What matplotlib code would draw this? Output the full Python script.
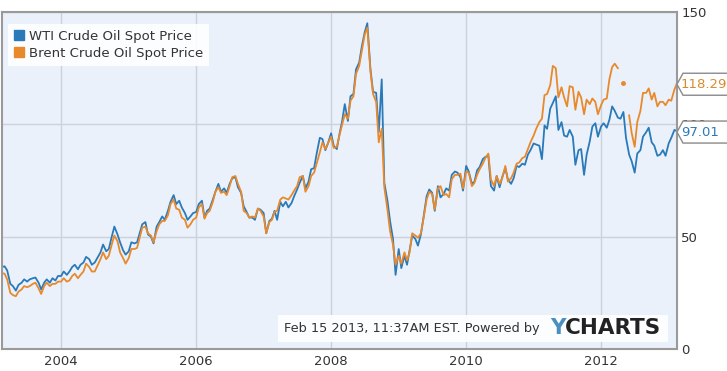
import numpy as np
import pandas as pd
import matplotlib
matplotlib.use('Agg')
import matplotlib.pyplot as plt
from matplotlib.lines import Line2D
from matplotlib.patches import Polygon, Rectangle

# semi-monthly samples, 15 Feb 2003 .. 15 Feb 2013
dates = pd.date_range('2003-02-15', '2013-02-15', freq='SMS')

wti = [
    36.5, 36.8, 35.0, 29.0, 28.0, 26.0, 28.5, 29.5, 31.0, 30.0, 31.0, 31.5, 31.8, 29.5, 26.5, 29.5, 31.0, 29.5, 31.5, 30.5, 32.5,  # 2003
    32.5, 34.5, 33.0, 34.5, 36.5, 37.5, 35.5, 37.5, 38.5, 41.0, 40.0, 37.5, 38.5, 40.5, 43.0, 46.5, 43.5, 44.5, 50.0, 54.5, 51.0, 47.5, 44.0, 42.0,  # 2004
    43.5, 47.5, 47.0, 47.5, 51.5, 55.5, 56.5, 51.0, 50.0, 47.0, 54.5, 56.5, 59.0, 57.5, 61.5, 65.5, 68.5, 64.5, 66.0, 63.0, 60.5, 57.5, 59.0, 60.5,  # 2005
    61.0, 64.5, 66.0, 58.5, 61.5, 62.5, 66.5, 70.0, 73.5, 70.0, 71.5, 69.5, 73.5, 76.0, 76.5, 72.0, 69.5, 63.5, 61.0, 58.5, 58.5, 57.5, 62.5, 62.0,  # 2006
    60.5, 51.5, 57.0, 58.0, 61.5, 57.5, 65.5, 63.5, 65.5, 63.0, 65.0, 68.0, 71.0, 74.0, 77.0, 71.5, 74.5, 80.0, 80.5, 87.0, 94.0, 93.5, 88.5, 91.5,  # 2007
    96.0, 90.5, 89.0, 95.5, 101.5, 109.0, 101.5, 112.5, 113.5, 124.5, 127.5, 134.5, 141.0, 145.0, 124.5, 114.5, 114.0, 96.5, 120.0, 74.0, 66.0, 57.0, 49.0, 33.0,  # 2008
    44.5, 36.0, 41.5, 37.5, 44.0, 50.5, 49.0, 46.0, 51.0, 58.5, 68.0, 71.0, 69.5, 61.5, 72.5, 67.5, 69.0, 71.5, 70.5, 77.5, 79.0, 78.5, 76.5, 70.5,  # 2009
    81.5, 79.0, 73.5, 74.5, 79.5, 81.0, 84.5, 85.5, 86.0, 72.5, 70.5, 77.0, 72.0, 76.5, 80.5, 75.5, 73.5, 76.0, 81.5, 81.0, 82.5, 82.0, 86.5, 88.5,  # 2010
    91.5, 91.0, 90.5, 84.5, 99.5, 98.0, 107.0, 109.5, 112.5, 97.5, 101.0, 95.0, 94.5, 97.5, 94.5, 82.0, 88.5, 89.0, 77.5, 86.5, 92.5, 99.0, 100.5, 94.5,  # 2011
    99.0, 100.5, 98.5, 102.0, 108.0, 106.0, 103.0, 102.5, 105.5, 94.0, 86.5, 83.5, 78.5, 87.0, 88.5, 94.5, 96.5, 98.5, 92.0, 90.5, 86.0, 86.5, 88.5, 86.0,  # 2012
    91.5, 94.0, 97.5, 97.01,  # 2013
]

brent = [
    33.8, 33.5, 31.0, 25.0, 24.0, 23.5, 25.5, 26.5, 28.0, 27.5, 28.0, 29.0, 29.5, 27.0, 24.5, 28.0, 29.5, 28.0, 29.0, 29.0, 30.0,  # 2003
    30.0, 31.5, 30.0, 30.5, 32.5, 33.5, 31.5, 33.0, 34.5, 38.0, 36.5, 34.5, 34.5, 37.0, 40.0, 43.0, 40.0, 41.5, 46.5, 50.5, 48.0, 43.0, 40.5, 38.0,  # 2004
    40.5, 44.5, 44.5, 45.0, 49.5, 54.0, 54.5, 51.5, 50.5, 47.5, 52.5, 55.5, 57.0, 57.0, 59.5, 64.5, 66.5, 62.5, 62.0, 58.5, 57.5, 54.0, 55.5, 57.5,  # 2005
    58.5, 63.0, 64.5, 58.0, 60.5, 61.5, 65.5, 70.0, 72.0, 69.5, 70.0, 68.5, 72.5, 76.5, 77.0, 73.5, 70.0, 61.5, 60.5, 58.5, 59.0, 58.5, 62.5, 61.5,  # 2006
    59.0, 51.5, 56.5, 57.5, 61.0, 61.5, 66.5, 67.5, 67.0, 66.5, 68.5, 70.5, 72.5, 76.5, 77.0, 70.0, 72.5, 77.0, 78.5, 82.5, 87.5, 92.0, 89.0, 91.5,  # 2007
    94.5, 89.5, 90.0, 95.0, 100.0, 104.5, 102.5, 110.5, 112.5, 122.5, 126.0, 132.5, 140.0, 143.0, 123.5, 113.5, 110.0, 92.0, 98.0, 72.0, 62.0, 52.5, 46.5, 37.5,  # 2008
    41.5, 38.0, 43.0, 39.5, 43.0, 51.5, 50.5, 49.5, 51.5, 58.0, 66.5, 70.0, 69.0, 62.0, 71.5, 72.5, 68.5, 69.0, 67.5, 75.5, 77.5, 77.5, 78.0, 71.5,  # 2009
    79.0, 78.5, 72.5, 74.0, 77.5, 80.0, 82.5, 85.0, 87.0, 75.5, 72.5, 77.0, 73.5, 76.0, 81.5, 74.5, 76.0, 78.5, 82.5, 83.0, 85.0, 85.5, 89.0, 92.0,  # 2010
    95.0, 98.0, 101.0, 102.5, 113.0, 113.5, 117.5, 126.0, 125.0, 112.0, 116.5, 112.0, 108.0, 117.0, 116.5, 106.5, 114.5, 112.0, 104.5, 111.0, 109.0, 111.5, 110.0, 104.5,  # 2011
    108.5, 111.0, 111.5, 120.0, 125.5, 127.0, 125.0, np.nan, 118.4, np.nan, 104.0, 96.0, 90.0, 101.0, 106.0, 114.0, 114.0, 116.0, 111.0, 114.0, 108.0, 110.0, 110.0, 108.5,  # 2012
    111.0, 110.5, 115.5, 118.29,  # 2013
]

labels = ['WTI Crude Oil Spot Price', 'Brent Crude Oil Spot Price']
year_ticks = ['2004', '2006', '2008', '2010', '2012']
y_ticks = [0, 50, 100, 150]
stamp = 'Feb 15 2013, 11:37AM EST. Powered by'

wti_c = '#2a7ab9'
brent_c = '#e8892b'

fig = plt.figure(figsize=(7.27, 3.71), dpi=100)
ax = fig.add_axes([2 / 727, 22 / 371, 675 / 727, 337 / 371])
ax.set_facecolor('#eaf1fb')

ax.plot(dates, wti, color=wti_c, lw=1.3)
ax.plot(dates, brent, color=brent_c, lw=1.3)
b = pd.Series(brent, index=dates)
lone = b.notna() & b.shift(1).isna() & b.shift(-1).isna()
ax.plot(b.index[lone], b[lone], 'o', ms=2.5, color=brent_c)

ax.set_xlim(dates[0], dates[-1])
ax.set_ylim(0, 150)
ax.set_xticks(pd.to_datetime([y + '-01-01' for y in year_ticks]))
ax.set_xticklabels(year_ticks)
ax.yaxis.tick_right()
ax.set_yticks(y_ticks)
ax.tick_params(length=0, labelsize=9.5, colors='#333333')
ax.tick_params(axis='x', pad=4)
ax.tick_params(axis='y', pad=3)
ax.grid(color='#cdd2da', lw=1)
ax.set_axisbelow(True)
for s in ax.spines.values():
    s.set_color('#9a9a9a')
    s.set_linewidth(1.5)

handles = [Line2D([], [], marker='s', ls='', ms=7, color=c) for c in (wti_c, brent_c)]
leg = ax.legend(handles, labels, loc='upper left', bbox_to_anchor=(0.009, 0.964),
                borderaxespad=0, fontsize=9.5, frameon=True, fancybox=False,
                handlelength=0.7, handletextpad=0.45, borderpad=0.45, labelspacing=0.3)
leg.get_frame().set_edgecolor('none')
leg.get_frame().set_facecolor('white')
leg.get_frame().set_alpha(0.9)
for t in leg.get_texts():
    t.set_color('#333333')

# watermark box
ax.add_patch(Rectangle((0.409, 0.021), 0.578, 0.08, transform=ax.transAxes,
                       facecolor='white', edgecolor='none', alpha=0.9, zorder=5))
ax.text(0.418, 0.061, stamp, transform=ax.transAxes, fontsize=9.3,
        color='#333333', va='center', ha='left', zorder=6)
ax.text(0.812, 0.061, 'Y', transform=ax.transAxes, fontsize=15.5, fontweight='bold',
        color='#4a8fbf', va='center', ha='left', zorder=6)
ax.text(0.834, 0.061, 'CHARTS', transform=ax.transAxes, fontsize=15.5, fontweight='bold',
        color='#222222', va='center', ha='left', zorder=6)


# last-value tags on the right
def tag(value, text, color):
    yd = ax.transData.transform((0, value))[1] - 1
    x0 = 677
    h = 11
    pts = [(x0, yd), (x0 + 6, yd + h), (740, yd + h), (740, yd - h), (x0 + 6, yd - h)]
    fig.add_artist(Polygon(pts, closed=True, transform=None, facecolor='white',
                           edgecolor='#8a8a8a', lw=1, zorder=3))
    fig.text(681 / 727, yd / 371, text, color=color, fontsize=9.5, va='center',
             ha='left', zorder=4)


tag(brent[-1], '%.2f' % brent[-1], '#d98a2c')
tag(wti[-1], '%.2f' % wti[-1], wti_c)

fig.savefig('out.png', dpi=100)
